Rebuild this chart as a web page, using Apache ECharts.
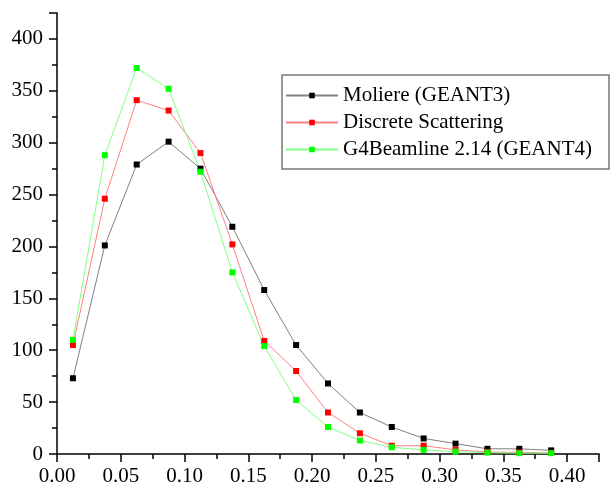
<!DOCTYPE html>
<html>
<head>
<meta charset="utf-8">
<script src="https://cdn.jsdelivr.net/npm/echarts@6/dist/echarts.min.js"></script>
<style>
  html, body { margin: 0; padding: 0; background: #fff; }
  #chart { width: 611px; height: 487px; }
</style>
</head>
<body>
<div id="chart"></div>
<script>
// x 位置（每个 bin 的中心）
const xValues = [0.0125, 0.0375, 0.0625, 0.0875, 0.1125, 0.1375, 0.1625, 0.1875,
  0.2125, 0.2375, 0.2625, 0.2875, 0.3125, 0.3375, 0.3625, 0.3875]
const seriesNames = ['Moliere (GEANT3)', 'Discrete Scattering', 'G4Beamline 2.14 (GEANT4)']
const moliere = [73, 201, 279, 301, 275, 219, 158, 105, 68, 40, 26, 15, 10, 5, 5, 3.5]
const discrete = [105, 246, 341, 331, 290, 202, 109, 80, 40, 20, 8, 8, 4, 2, 1.5, 1]
const g4beamline = [110, 288, 372, 352, 272, 175, 104, 52, 26, 13, 6.5, 4, 2.3, 1.3, 0.8, 0.8]

const font = 'Liberation Serif, Times New Roman, serif'

function pairs(ys) {
  return xValues.map(function (x, i) { return [x, ys[i]] })
}

(function () {
  let myChart = echarts.init(document.getElementById('chart'))

  // 三条线的样式：点是纯色，线颜色浅一点
  let styles = [
    { point: '#000000', line: '#808080' },
    { point: '#ff0000', line: '#ff8080' },
    { point: '#00ff00', line: '#80ff80' }
  ]
  let data = [moliere, discrete, g4beamline]

  let axisCommon = {
    axisLine: { show: true, lineStyle: { color: '#000', width: 1.5 } },
    axisTick: { show: true, inside: false, length: 8, lineStyle: { color: '#000', width: 1.5 } },
    minorTick: { show: true, splitNumber: 2, length: 5, lineStyle: { color: '#000', width: 1.5 } },
    splitLine: { show: false },
    minorSplitLine: { show: false }
  }

  let option = {
    animation: false,
    backgroundColor: '#fff',
    grid: {
      left: 57,
      right: 12,
      top: 13,
      bottom: 33,
      containLabel: false
    },
    xAxis: Object.assign({
      type: 'value',
      min: 0,
      max: 0.425,
      interval: 0.05,
      axisLabel: {
        color: '#000',
        fontFamily: font,
        fontSize: 21,
        margin: 12,
        showMaxLabel: false,
        formatter: function (v) { return v.toFixed(2) }
      }
    }, axisCommon),
    yAxis: Object.assign({
      type: 'value',
      min: 0,
      max: 425,
      interval: 50,
      axisLabel: {
        color: '#000',
        fontFamily: font,
        fontSize: 21,
        margin: 14,
        showMaxLabel: false
      }
    }, axisCommon),
    legend: {
      orient: 'vertical',
      left: 282,
      top: 75,
      padding: [10, 17, 9, 3],
      itemWidth: 52,
      itemHeight: 7,
      itemGap: 6,
      borderColor: '#777',
      borderWidth: 1.5,
      backgroundColor: '#fff',
      textStyle: {
        color: '#000',
        fontFamily: font,
        fontSize: 21,
        lineHeight: 20
      },
      data: seriesNames
    },
    series: seriesNames.map(function (name, i) {
      return {
        name: name,
        type: 'line',
        data: pairs(data[i]),
        symbol: 'rect',
        symbolSize: 6,
        showAllSymbol: true,
        itemStyle: { color: styles[i].point },
        lineStyle: { color: styles[i].line, width: 1 }
      }
    })
  }

  myChart.setOption(option)

  window.addEventListener('resize', function () {
    myChart.resize()
  })
})();
</script>
</body>
</html>
